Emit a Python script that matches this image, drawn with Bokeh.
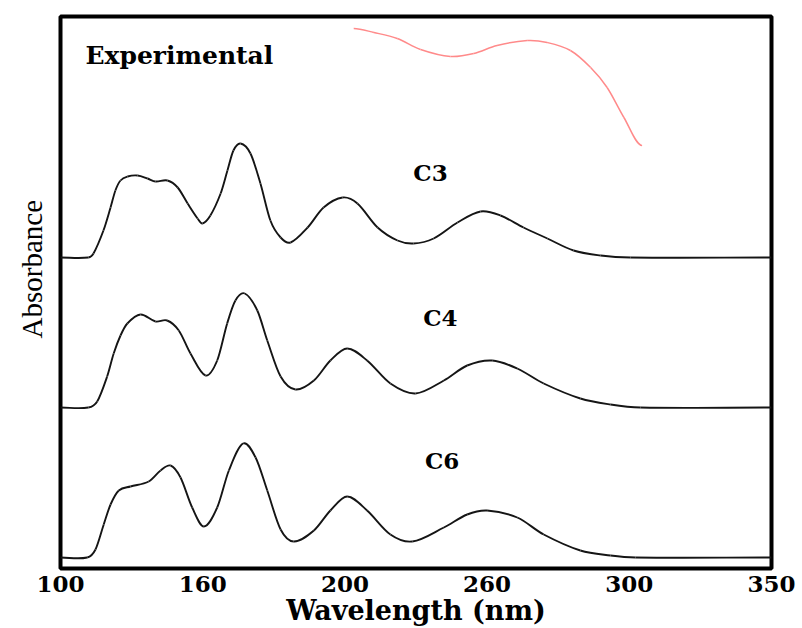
import numpy as np
from bokeh.plotting import figure
from bokeh.models import Range1d, FixedTicker, Title
from bokeh.core.properties import value
from bokeh.embed import file_html
from bokeh.resources import INLINE

# ---- data ---------------------------------------------------------------
# x-axis tick positions and the labels printed under them
tick_positions = [100, 150, 200, 250, 300, 350]
tick_labels = ["100", "160", "200", "260", "300", "350"]

# computed spectra (absorbance above each curve's own baseline, a.u.)
c3_wl = [100.0, 109.8, 111.6, 115.1, 117.6, 119.3, 121.1, 123.6, 127.1, 130.6,
         133.4, 137.6, 141.2, 144.7, 148.2, 149.9, 152.7, 156.3, 158.7, 160.8,
         163.3, 166.8, 170.3, 173.8, 177.4, 180.9, 186.9, 192.5, 199.2, 204.4,
         211.5, 218.5, 224.1, 231.2, 239.6, 247.7, 254.7, 262.8, 271.2, 280.4,
         289.9, 300.4, 350.0]
c3_abs = [0.0, 0.0, 0.04, 0.27, 0.50, 0.67, 0.77, 0.81, 0.82, 0.79,
          0.76, 0.77, 0.70, 0.54, 0.39, 0.34, 0.42, 0.64, 0.87, 1.07,
          1.14, 1.04, 0.74, 0.37, 0.20, 0.15, 0.30, 0.50, 0.60, 0.54,
          0.30, 0.17, 0.14, 0.19, 0.35, 0.46, 0.42, 0.30, 0.19, 0.07,
          0.02, 0.0, 0.0]

c4_wl = [100.0, 109.8, 112.9, 116.4, 118.7, 121.1, 123.5, 128.1, 133.4, 137.5,
         141.6, 145.7, 151.0, 155.1, 158.6, 161.5, 164.8, 169.2, 172.7, 177.4,
         182.6, 189.1, 194.9, 200.8, 207.8, 216.0, 224.8, 234.8, 243.0, 251.8,
         260.6, 269.9, 282.8, 293.4, 303.9, 350.0]
c4_abs = [0.0, 0.0, 0.06, 0.31, 0.54, 0.72, 0.84, 0.93, 0.86, 0.87,
          0.77, 0.54, 0.32, 0.47, 0.84, 1.07, 1.14, 0.97, 0.67, 0.31,
          0.18, 0.27, 0.47, 0.59, 0.47, 0.24, 0.14, 0.27, 0.42, 0.47,
          0.39, 0.24, 0.09, 0.03, 0.0, 0.0]

c6_wl = [100.0, 109.4, 112.3, 115.2, 117.6, 120.5, 124.6, 131.0, 135.2, 138.7,
         142.2, 146.3, 150.4, 155.1, 159.2, 164.2, 168.6, 172.7, 177.4, 182.0,
         189.1, 194.9, 200.8, 207.8, 216.0, 223.7, 234.8, 243.0, 250.0, 260.6,
         269.9, 282.8, 293.4, 302.2, 350.0]
c6_abs = [0.0, 0.0, 0.08, 0.33, 0.53, 0.67, 0.71, 0.76, 0.87, 0.92,
          0.80, 0.50, 0.31, 0.50, 0.87, 1.14, 1.00, 0.67, 0.28, 0.16,
          0.27, 0.47, 0.61, 0.47, 0.23, 0.16, 0.30, 0.43, 0.47, 0.40,
          0.23, 0.07, 0.02, 0.0, 0.0]

# vertical offsets of the stacked spectra
series_names = ["C3", "C4", "C6"]
series_offsets = [3.11, 1.61, 0.11]

# measured spectrum (absolute scale of the panel)
exp_wl = [203.1, 210.2, 218.4, 226.6, 237.1, 245.3, 253.5, 264.1, 271.1,
          279.3, 286.4, 292.2, 298.1, 304.5]
exp_abs = [5.40, 5.36, 5.30, 5.19, 5.12, 5.15, 5.23, 5.28, 5.26,
           5.18, 5.01, 4.81, 4.51, 4.23]


def smooth_segments(xs, ys):
    """Catmull-Rom style cubic pieces through the points, as Bezier columns."""
    x = np.asarray(xs, float)
    y = np.asarray(ys, float)
    h = np.diff(x)
    m = np.zeros_like(y)
    m[1:-1] = (y[2:] - y[:-2]) / (x[2:] - x[:-2])
    return dict(
        x0=x[:-1], y0=y[:-1], x1=x[1:], y1=y[1:],
        cx0=x[:-1] + h / 3, cy0=y[:-1] + m[:-1] * h / 3,
        cx1=x[1:] - h / 3, cy1=y[1:] - m[1:] * h / 3,
    )


p = figure(width=802, height=628, output_backend="svg", toolbar_location=None,
           x_range=Range1d(100, 350), y_range=Range1d(0, 5.52),
           min_border_left=60, min_border_right=31,
           min_border_top=16, min_border_bottom=60)

p.background_fill_color = "white"
p.border_fill_color = "white"
p.outline_line_color = "black"
p.outline_line_width = 4
p.grid.visible = False

# x axis
p.xaxis.ticker = FixedTicker(ticks=tick_positions)
p.xaxis.major_label_overrides = dict(zip(tick_positions, tick_labels))
p.xaxis.major_label_text_font = "DejaVu Serif"
p.xaxis.major_label_text_font_style = "bold"
p.xaxis.major_label_text_font_size = "23px"
p.xaxis.major_label_text_color = "black"
p.xaxis.major_label_standoff = 1
p.xaxis.axis_label = "Wavelength (nm)"
p.xaxis.axis_label_text_font = "DejaVu Serif"
p.xaxis.axis_label_text_font_style = "bold"
p.xaxis.axis_label_text_font_size = "27px"
p.xaxis.axis_label_text_color = "black"
p.xaxis.axis_label_standoff = 0

# y axis carries no ticks; its title sits in a side panel, slightly raised
p.yaxis.ticker = FixedTicker(ticks=[])
p.yaxis.major_label_text_font_size = "0px"

for ax in (p.xaxis, p.yaxis):
    ax.axis_line_color = None
    ax.major_tick_line_color = None
    ax.minor_tick_line_color = None

p.add_layout(Title(text="Absorbance", align="left", offset=230, standoff=26,
                   text_font="Liberation Serif", text_font_size="29px",
                   text_font_style="normal", text_color="black"), "left")

# stacked computed spectra
for wl, ab, off in zip([c3_wl, c4_wl, c6_wl], [c3_abs, c4_abs, c6_abs], series_offsets):
    seg = smooth_segments(wl, np.asarray(ab) + off)
    p.bezier(source=seg, x0="x0", y0="y0", x1="x1", y1="y1",
             cx0="cx0", cy0="cy0", cx1="cx1", cy1="cy1",
             line_color="#151515", line_width=1.9)

# measured spectrum
seg = smooth_segments(exp_wl, exp_abs)
p.bezier(source=seg, x0="x0", y0="y0", x1="x1", y1="y1",
         cx0="cx0", cy0="cy0", cx1="cx1", cy1="cy1",
         line_color="#ff8a8a", line_width=1.5)

# curve labels
p.text(x=[230.1, 233.6, 234.2], y=[3.96, 2.51, 1.08], text=series_names,
       text_font=value("DejaVu Serif"), text_font_style="bold",
       text_font_size="23px", text_color="black",
       text_align="center", text_baseline="middle")
p.text(x=[108.8], y=[5.13], text=["Experimental"],
       text_font=value("DejaVu Serif"), text_font_style="bold",
       text_font_size="25px", text_color="black",
       text_align="left", text_baseline="middle")

open("out.html", "w").write(file_html(p, INLINE))
